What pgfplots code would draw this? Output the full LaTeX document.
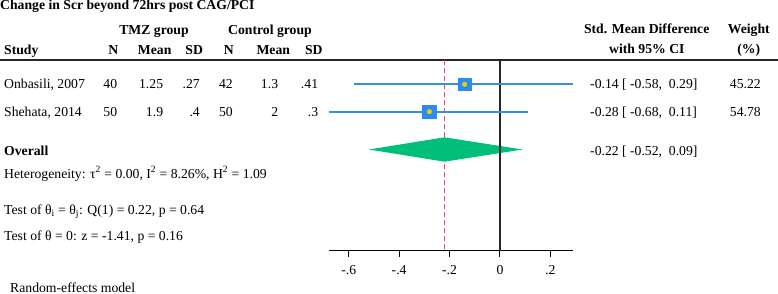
\documentclass[border=0pt]{standalone}
\usepackage{fontspec}
\setmainfont{Liberation Serif}
\usepackage{pgfplots}
\pgfplotsset{compat=1.18}
\definecolor{ciblue}{HTML}{3A8EE6}
\definecolor{sqblue}{HTML}{2B8CEF}
\definecolor{dotyellow}{HTML}{F2C811}
\definecolor{diagreen}{HTML}{00BF7A}
\definecolor{refpink}{HTML}{E8409A}
\begin{document}
\begin{tikzpicture}[x=1pt,y=1pt, every node/.style={font=\fontsize{13.7}{16}\selectfont, inner sep=0pt}]
\path[use as bounding box] (0,0) rectangle (778,-294);
% header
\node[anchor=base west] at (0,-10) {\bfseries Change in Scr beyond 72hrs post CAG/PCI};
\node[anchor=base] at (154,-34.5) {\bfseries TMZ group};
\node[anchor=base] at (270,-34.5) {\bfseries Control group};
\node[anchor=base west] at (4,-55) {\bfseries Study};
\node[anchor=base] at (113.3,-55) {\bfseries N};
\node[anchor=base] at (154.7,-55) {\bfseries Mean};
\node[anchor=base] at (194.2,-55) {\bfseries SD};
\node[anchor=base] at (228.8,-55) {\bfseries N};
\node[anchor=base] at (273.3,-55) {\bfseries Mean};
\node[anchor=base] at (313.8,-55) {\bfseries SD};
\node[anchor=base] at (646.7,-33.5) {\bfseries Std. Mean Difference};
\node[anchor=base] at (646.8,-54) {\bfseries with 95\% CI};
\node[anchor=base] at (748.8,-33.5) {\bfseries Weight};
\node[anchor=base] at (748.7,-54) {\bfseries (\%)};
\draw[line width=1.6pt, black!85] (0,-60) -- (778,-60);
% study rows
\node[anchor=base west] at (4,-89) {Onbasili, 2007};
\node[anchor=base east] at (117.3,-89) {40};
\node[anchor=base east] at (163.3,-89) {1.25};
\node[anchor=base east] at (200,-89) {.27};
\node[anchor=base east] at (233,-89) {42};
\node[anchor=base east] at (278.3,-89) {1.3};
\node[anchor=base east] at (318.3,-89) {.41};
\node[anchor=base west] at (590,-89) {-0.14 [ -0.58,\ \ 0.29]};
\node[anchor=base east] at (761,-89) {45.22};
\node[anchor=base west] at (4,-116.5) {Shehata, 2014};
\node[anchor=base east] at (117.3,-116.5) {50};
\node[anchor=base east] at (163.3,-116.5) {1.9};
\node[anchor=base east] at (200,-116.5) {.4};
\node[anchor=base east] at (233,-116.5) {50};
\node[anchor=base east] at (278.3,-116.5) {2};
\node[anchor=base east] at (318.3,-116.5) {.3};
\node[anchor=base west] at (590,-116.5) {-0.28 [ -0.68,\ \ 0.11]};
\node[anchor=base east] at (761,-116.5) {54.78};
\node[anchor=base west] at (4,-155.5) {\bfseries Overall};
\node[anchor=base west] at (590,-155) {-0.22 [ -0.52,\ \ 0.09]};
\node[anchor=base west] at (4,-178) {Heterogeneity: τ\textsuperscript{2} = 0.00, I\textsuperscript{2} = 8.26\%, H\textsuperscript{2} = 1.09};
\node[anchor=base west] at (4,-214) {Test of θ\textsubscript{i} = θ\textsubscript{j}: Q(1) = 0.22, p = 0.64};
\node[anchor=base west] at (4,-240) {Test of θ = 0: z = -1.41, p = 0.16};
\node[anchor=base west] at (10,-292.5) {Random-effects model};
\begin{axis}[
  at={(328.6pt,-250.7pt)}, anchor=south west,
  scale only axis, width=244.4pt, height=190.7pt,
  xmin=-0.68, xmax=0.29, ymin=-250.7, ymax=-60,
  axis x line=bottom, axis y line=none,
  axis line style={-, black, line width=0.9pt},
  xtick={-0.6,-0.4,-0.2,0,0.2},
  xticklabels={-.6,-.4,-.2,0,.2},
  tick align=outside, major tick length=6pt,
  xtick style={black, line width=0.9pt},
  xticklabel style={font=\fontsize{13.7}{16}\selectfont, anchor=base, yshift=-18pt},
  clip=false,
]
\addplot[refpink, line width=1.1pt, dash pattern=on 5pt off 3pt] coordinates {(-0.22,-60) (-0.22,-250.7)};
\addplot[diagreen, fill=diagreen, draw=none] coordinates {(-0.52,-149.5) (-0.22,-137.3) (0.09,-149.5) (-0.22,-161.7)} -- cycle;
\addplot[black!85, line width=1.2pt] coordinates {(0,-60) (0,-250.7)};
\addplot[ciblue, line width=1.7pt] coordinates {(-0.58,-84.3) (0.29,-84.3)};
\addplot[ciblue, line width=1.7pt] coordinates {(-0.68,-111.7) (0.11,-111.7)};
\addplot[only marks, color=sqblue, mark=square*, mark size=6.2pt, mark options={fill=sqblue, draw=sqblue, solid}] coordinates {(-0.14,-84.3)};
\addplot[only marks, color=sqblue, mark=square*, mark size=6.9pt, mark options={fill=sqblue, draw=sqblue, solid}] coordinates {(-0.28,-111.7)};
\addplot[only marks, color=dotyellow, mark=*, mark size=2.3pt, mark options={fill=dotyellow, draw=dotyellow, solid}] coordinates {(-0.14,-84.3) (-0.28,-111.7)};
\end{axis}
\end{tikzpicture}
\end{document}
